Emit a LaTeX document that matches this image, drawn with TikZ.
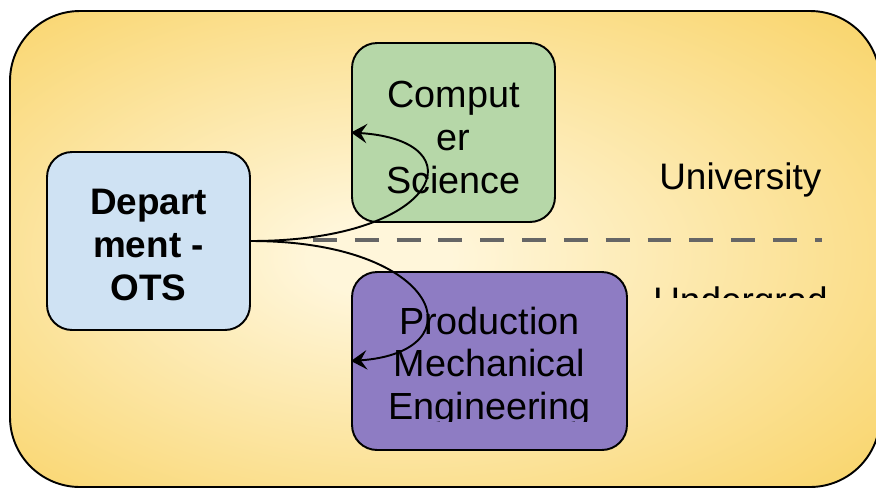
\documentclass[tikz,border=0pt]{standalone}
\usepackage{fontspec}
\setmainfont{Liberation Sans}
\usepackage{xcolor}
\usepackage{tikz}
\usetikzlibrary{calc}
\usetikzlibrary{positioning}
\usetikzlibrary{arrows.meta}

\definecolor{bgin}{HTML}{FFF6DA}
\definecolor{bgout}{HTML}{F8D05C}
\definecolor{deptblue}{HTML}{CFE2F3}
\definecolor{csgreen}{HTML}{B6D7A8}
\definecolor{prodviolet}{HTML}{8E7CC3}
\definecolor{sepgray}{HTML}{666666}

\pgfdeclareradialshading{unishade}{\pgfpoint{-4bp}{-1bp}}{color(0bp)=(bgin);color(4bp)=(bgin);color(40bp)=(bgout);color(50bp)=(bgout)}

\tikzset{
	unit/.style={draw=black,line width=1.1pt,rounded corners=0.5cm,align=center,
		inner sep=0pt,font=\fontsize{21.5}{24.3}\selectfont},
	link/.style={-{Stealth[length=9pt,width=11pt,inset=3.5pt]},line width=1.1pt},
	level/.style={font=\fontsize{21}{24}\selectfont,inner sep=0pt}
}

\begin{document}
\begin{tikzpicture}[x=0.02cm,y=-0.02cm]
	\useasboundingbox (0,0) rectangle (876,488);
	% university background
	\draw[line width=1.1pt,rounded corners=1.4cm,shading=unishade]
		(10,11) rectangle (880,487);
	% boundary between levels
	\coordinate (sepL) at (313,240);
	\coordinate (sepR) at (822,240);
	\draw[sepgray,line width=2.8pt,dash pattern=on 13.6pt off 10.2pt] (sepL)--(sepR);
	\node[level,anchor=base west] (uni) at (659,189) {University};
	\begin{scope}
		\clip (600,250) rectangle (876,297);
		\node[level,anchor=base west] (ug) at (653,313) {Undergrad};
	\end{scope}
	% units
	\node[unit,fill=deptblue,minimum width=4.06cm,minimum height=3.56cm,font=\fontsize{21}{24.5}\selectfont\bfseries]
		(dept) at (148.5,241) {\rule{0pt}{18.6pt}Depart\\ment -\\OTS};
	\node[unit,fill=csgreen,minimum width=4.06cm,minimum height=3.58cm]
		(cs) at (453.5,132.5) {\rule{0pt}{20.5pt}Comput\\er\\Science};
	\node[unit,fill=prodviolet,minimum width=5.5cm,minimum height=3.56cm]
		(prod) at (489.5,361) {};
	\begin{scope}
		\clip (prod.north west) rectangle ($(prod.east)+(0,60)$);
		\node[unit,draw=none] (prodtxt) at (489.5,367) {Production\\Mechanical\\Engineering};
	\end{scope}
	% links
	\draw[link] (dept.east) .. controls +(190,0) and +(128,8) .. (cs.west);
	\draw[link] (dept.east) .. controls +(190,0) and +(128,-9) .. (prod.west);
\end{tikzpicture}
\end{document}
